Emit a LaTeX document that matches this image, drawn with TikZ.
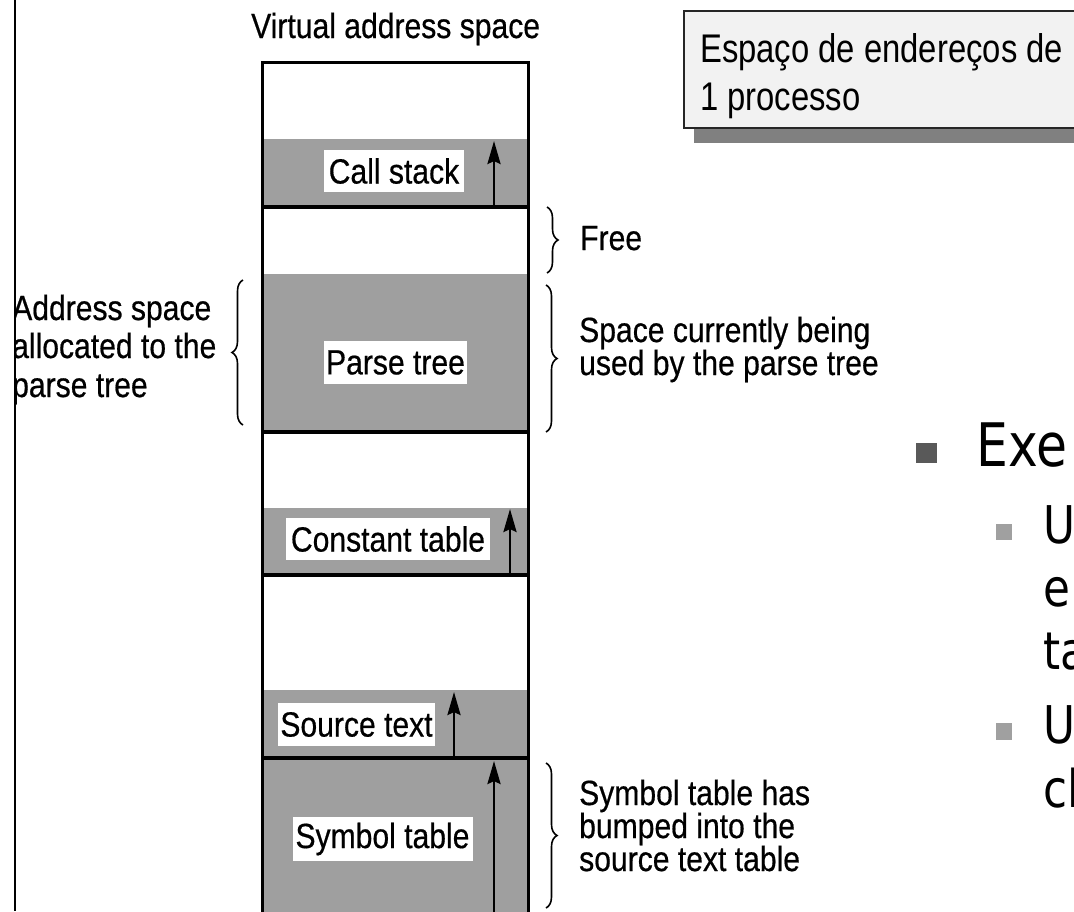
\documentclass[tikz,border=0pt]{standalone}
\usepackage{fontspec}
\setmainfont{Liberation Sans}
\newfontfamily\figfont{Liberation Sans}[FakeStretch=0.86,FakeBold=0.5]
\newfontfamily\notefont{Liberation Sans}[FakeStretch=0.82]
\newfontfamily\slidefont{DejaVu Sans}[FakeStretch=0.84]
\usetikzlibrary{arrows.meta,decorations.pathreplacing}

\definecolor{region}{HTML}{9F9F9F}
\definecolor{notefill}{HTML}{F2F2F2}
\definecolor{noteshadow}{HTML}{808080}
\definecolor{bulletdark}{HTML}{595959}
\definecolor{bulletlight}{HTML}{A0A0A0}

\tikzset{
  lblfont/.style={font={\figfont\fontsize{35}{40}\selectfont}, inner sep=0pt},
  txtline/.style={lblfont, anchor=base west},
  tagbox/.style={lblfont, fill=white, minimum height=42pt},
  usedfill/.style={fill=region, draw=none},
  seprule/.style={line width=3.8pt},
  wallline/.style={line width=3pt},
  bracedeco/.style={decorate, decoration={brace, amplitude=11pt}, line width=1.6pt},
  growarrow/.style={line width=2.8pt, -{Stealth[length=23pt,width=13pt,inset=3pt]}},
  notetext/.style={font={\notefont\fontsize{40}{48}\selectfont}, inner sep=0pt, anchor=base west},
  bigbullet/.style={font={\slidefont\fontsize{60}{70}\selectfont}, inner sep=0pt, anchor=base west},
  subbullet/.style={font={\slidefont\fontsize{52}{63}\selectfont}, inner sep=0pt, anchor=base west},
}

\begin{document}
\begin{tikzpicture}[x=1pt,y=-1pt]
\useasboundingbox (0,0) rectangle (1074,911);
\clip (0,0) rectangle (1074,911);

% ---- memory column: used regions ----
\fill[usedfill] (262,139) rectangle (528,207);
\fill[usedfill] (262,274) rectangle (528,432);
\fill[usedfill] (262,508) rectangle (528,575);
\fill[usedfill] (262,690) rectangle (528,758);
\fill[usedfill] (262,758) rectangle (528,920);

% column outline and boundaries
\coordinate (cTL) at (262,62);
\coordinate (cTR) at (528,62);
\draw[wallline] (262,920) -- (cTL) -- (cTR) -- (528,920);
\draw[seprule] (262,207) -- (528,207);
\draw[seprule] (262,432) -- (528,432);
\draw[seprule] (262,575) -- (528,575);
\draw[seprule] (262,758) -- (528,758);

\node[txtline] (title) at (251,38) {Virtual address space};

% ---- region labels ----
\node[tagbox, minimum width=140pt] (callstack) at (394,171) {Call stack};
\node[tagbox, minimum width=143pt, minimum height=43pt] (parsetree) at (395.5,362.5) {Parse tree};
\node[tagbox, minimum width=204pt] (consttab) at (388,539) {Constant table};
\node[tagbox, minimum width=157pt, minimum height=43pt] (srctext) at (356.5,724.5) {Source text};
\node[tagbox, minimum width=180pt, minimum height=44pt] (symtab) at (382.5,839) {Symbol table};

% ---- growth arrows ----
\coordinate (csA) at (494,207);   \coordinate (csB) at (494,141);
\coordinate (ctA) at (510,575);   \coordinate (ctB) at (510,509);
\coordinate (stA) at (454,758);   \coordinate (stB) at (454,692);
\coordinate (syA) at (494,915);   \coordinate (syB) at (494,761);
\draw[growarrow] (csA) -- (csB);
\draw[growarrow] (ctA) -- (ctB);
\draw[growarrow] (stA) -- (stB);
\draw[growarrow] (syA) -- (syB);

% ---- braces and their notes ----
\draw[bracedeco] (547,207) -- (547,273);
\node[txtline] (free) at (580,250) {Free};

\draw[bracedeco] (546,285) -- (546,432);
\node[txtline] (used1) at (579,342) {Space currently being};
\node[txtline] (used2) at (579,375) {used by the parse tree};

\draw[bracedeco] (546,763) -- (546,908);
\node[txtline] (bump1) at (579,805) {Symbol table has};
\node[txtline] (bump2) at (579,838) {bumped into the};
\node[txtline] (bump3) at (579,871) {source text table};

\draw[bracedeco] (243,425) -- (243,280);
\node[txtline] (alloc1) at (12,320) {Address space};
\node[txtline] (alloc2) at (12,358) {allocated to the};
\node[txtline] (alloc3) at (12,397) {parse tree};

% left margin rule
\fill[white] (0,0) rectangle (15,911);
\draw[line width=2.5pt] (15,0) -- (15,911);

% ---- callout box ----
\fill[noteshadow] (694,21) rectangle (1090,143);
\draw[line width=1.5pt, draw=black!85, fill=notefill] (684,11) rectangle (1085,128);
\node[notetext] (esp1) at (700,62) {Espaço de endereços de};
\node[notetext] (esp2) at (700,110) {1 processo};

% ---- slide bullets ----
\fill[bulletdark] (916,443) rectangle (937,463);
\node[bigbullet] (exe) at (976,466) {Exe};
\fill[bulletlight] (996,524) rectangle (1012,540);
\node[subbullet] (u1) at (1043,543) {U};
\node[subbullet] (e1) at (1043,606) {e};
\node[subbullet] (t1) at (1043,669) {ta};
\fill[bulletlight] (996,723) rectangle (1012,740);
\node[subbullet] (u2) at (1043,743) {U};
\node[subbullet] (c2) at (1043,807) {cl};
\end{tikzpicture}
\end{document}
